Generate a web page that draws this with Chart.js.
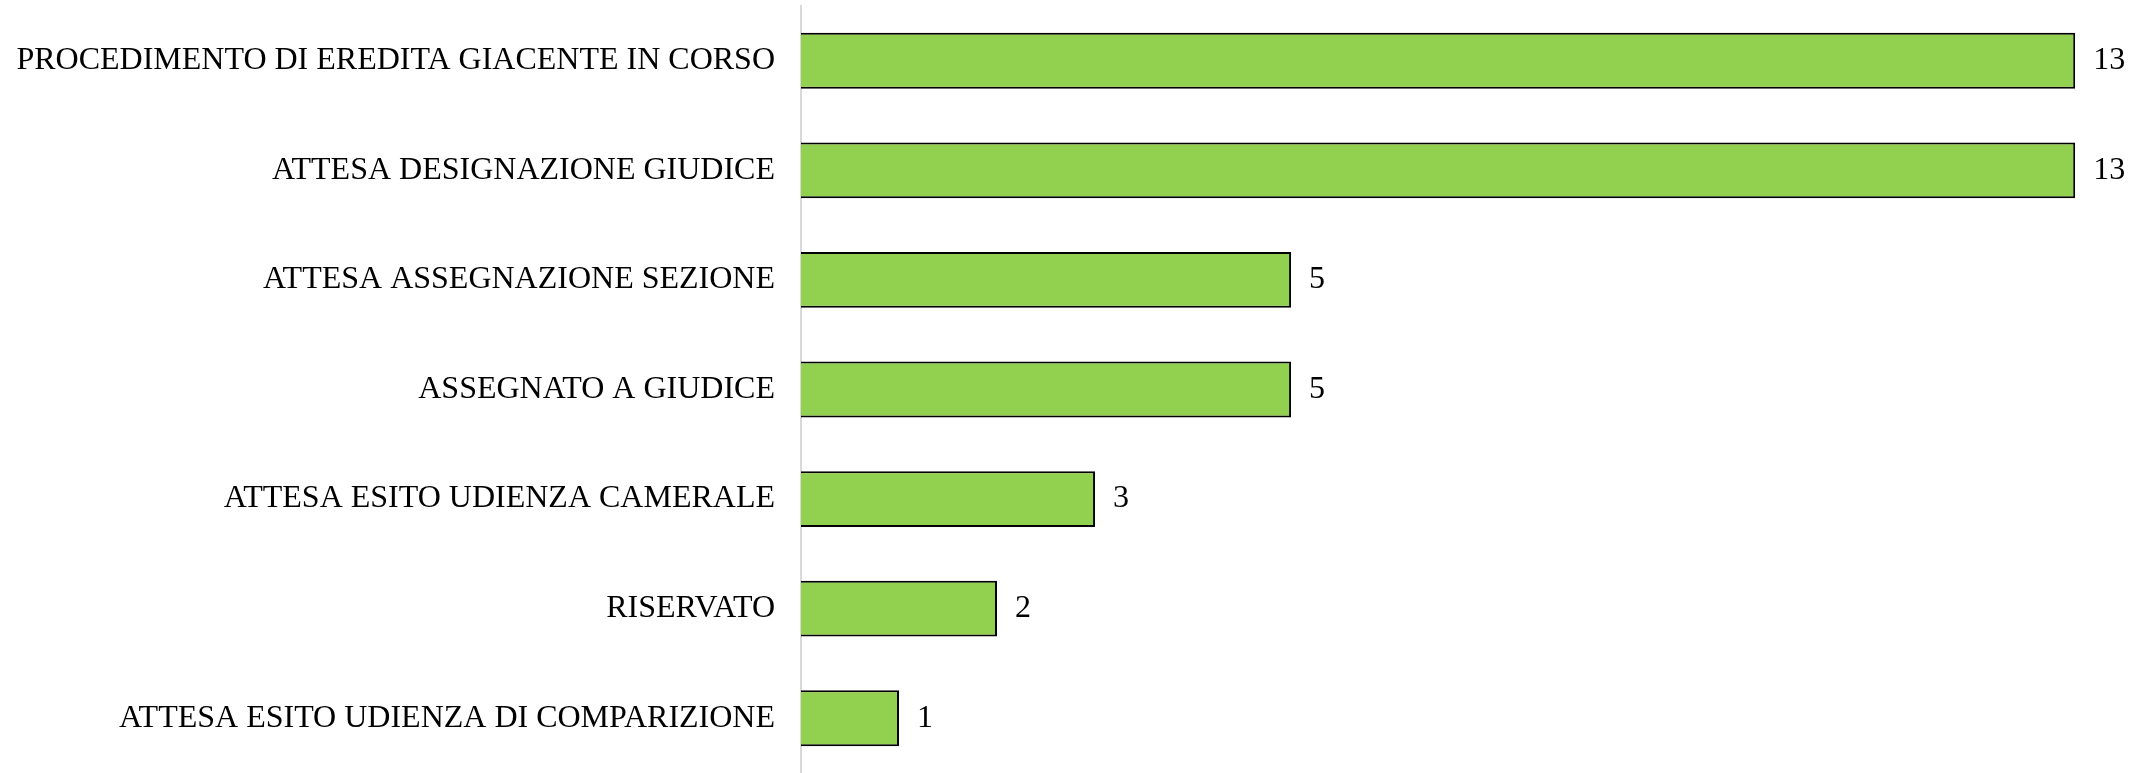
<!DOCTYPE html>
<html>
<head>
<meta charset="utf-8">
<script src="https://cdn.jsdelivr.net/npm/chart.js@4/dist/chart.umd.min.js"></script>
<style>
  html, body { margin: 0; padding: 0; background: #fff; }
</style>
</head>
<body>
<canvas id="statoChart" width="2151" height="773"></canvas>
<script>
var categorie = [
    "PROCEDIMENTO DI EREDITA GIACENTE IN CORSO",
    "ATTESA DESIGNAZIONE GIUDICE",
    "ATTESA ASSEGNAZIONE SEZIONE",
    "ASSEGNATO A GIUDICE",
    "ATTESA ESITO UDIENZA CAMERALE",
    "RISERVATO",
    "ATTESA ESITO UDIENZA DI COMPARIZIONE"
];
var valori = [13, 13, 5, 5, 3, 2, 1];

// etichette dei valori a destra delle barre
var etichetteValori = {
    id: "etichetteValori",
    afterDatasetsDraw: function (chart) {
        var ctx = chart.ctx;
        var meta = chart.getDatasetMeta(0);
        ctx.save();
        ctx.fillStyle = "#000";
        ctx.font = "32px 'Liberation Serif'";
        ctx.textBaseline = "middle";
        ctx.textAlign = "left";
        meta.data.forEach(function (bar, i) {
            ctx.fillText(String(valori[i]), bar.x + 18, bar.y);
        });
        ctx.restore();
    }
};

var ctx = document.getElementById("statoChart").getContext("2d");
var chart = new Chart(ctx, {
    type: "bar",
    data: {
        labels: categorie,
        datasets: [{
            data: valori,
            backgroundColor: "#92d050",
            borderColor: "#000",
            borderWidth: 2,
            categoryPercentage: 1,
            barPercentage: 0.51
        }]
    },
    options: {
        indexAxis: "y",
        responsive: false,
        animation: false,
        layout: { padding: { top: 6, right: 17, bottom: -4, left: 0 } },
        plugins: {
            legend: { display: false },
            tooltip: { enabled: false }
        },
        scales: {
            x: {
                display: false,
                min: 0,
                max: 13.6
            },
            y: {
                grid: { display: false, drawTicks: false },
                border: { display: true, color: "#d9d9d9", width: 2 },
                ticks: {
                    color: "#000",
                    padding: 26,
                    font: { family: "'Liberation Serif'", size: 32 }
                },
                afterFit: function (scale) {
                    scale.width = 801;
                    scale.paddingTop = 0;
                    scale.paddingBottom = 0;
                }
            }
        }
    },
    plugins: [etichetteValori]
});
</script>
</body>
</html>
